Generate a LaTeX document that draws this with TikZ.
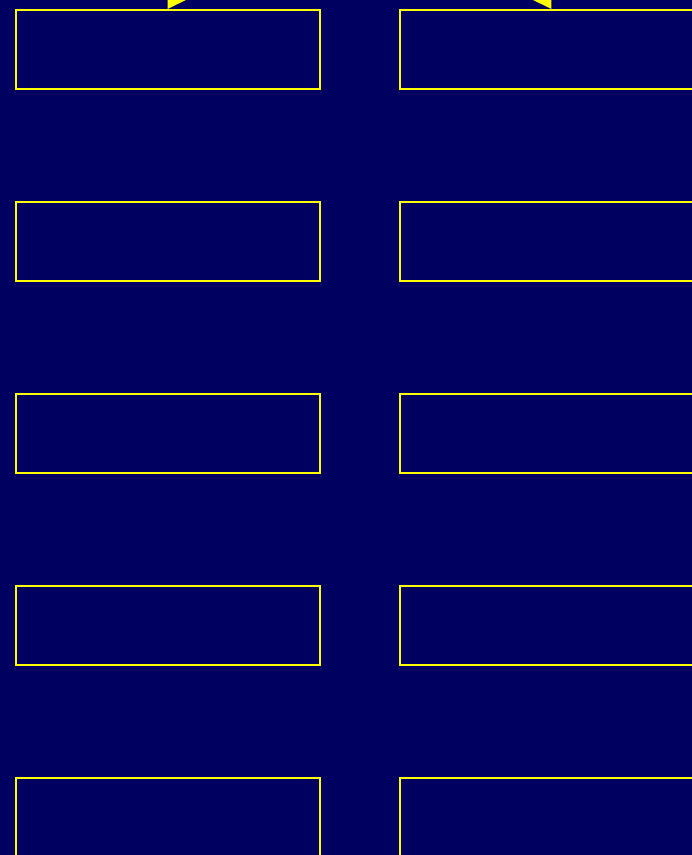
\documentclass[tikz,border=0pt]{standalone}
\usetikzlibrary{arrows.meta}
\definecolor{bgnavy}{RGB}{0,0,96}
\definecolor{edgeyellow}{RGB}{255,255,0}
\begin{document}
\begin{tikzpicture}[x=1pt,y=-1pt,
  box/.style={draw=edgeyellow,line width=1.5pt,rectangle,minimum width=304pt,minimum height=79pt,inner sep=0pt,anchor=north west},
  link/.style={draw=edgeyellow,line width=1.5pt,-{Triangle[length=22pt,width=27pt]}}]
\useasboundingbox (0,0) rectangle (692,855);
\fill[bgnavy] (0,0) rectangle (692,855);
\clip (0,0) rectangle (692,855);
\node[box] (l1) at (15.3,9.3) {};
\node[box] (l2) at (15.3,201.3) {};
\node[box] (l3) at (15.3,393.3) {};
\node[box] (l4) at (15.3,585.3) {};
\node[box] (l5) at (15.3,777.3) {};
\node[box] (r1) at (399.3,9.3) {};
\node[box] (r2) at (399.3,201.3) {};
\node[box] (r3) at (399.3,393.3) {};
\node[box] (r4) at (399.3,585.3) {};
\node[box] (r5) at (399.3,777.3) {};
\coordinate (src) at (359.5,-297);
\coordinate (tl) at (167.5,9);
\coordinate (tr) at (551.5,9);
\draw[link] (src) -- (tl);
\draw[link] (src) -- (tr);
\end{tikzpicture}
\end{document}
